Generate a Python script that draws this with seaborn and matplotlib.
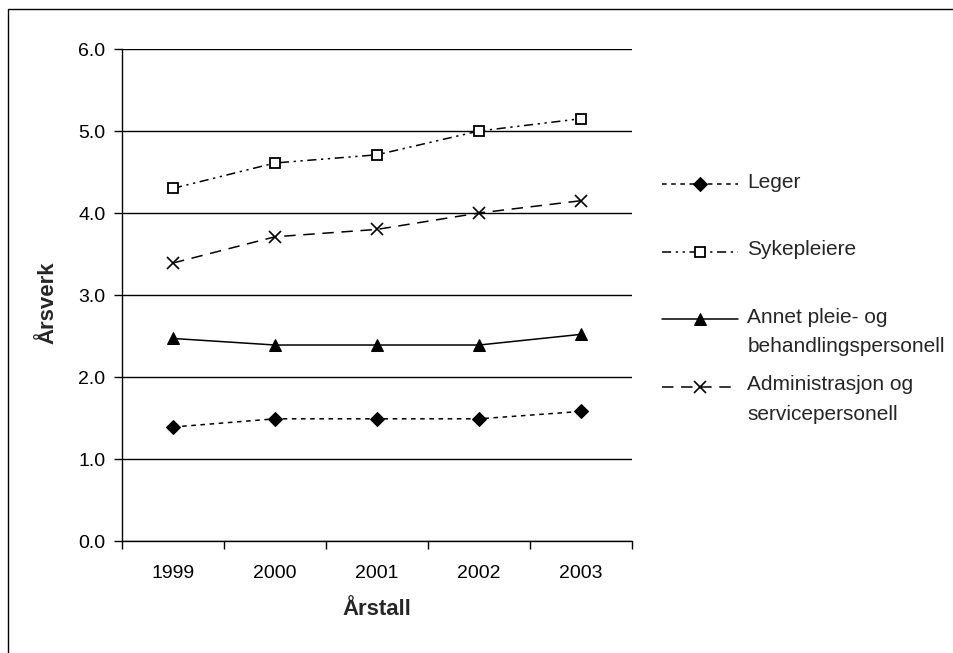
import matplotlib
matplotlib.use("Agg")
import matplotlib.pyplot as plt
import seaborn as sns
import pandas as pd
from matplotlib.patches import Rectangle
from matplotlib.legend_handler import HandlerLine2D

years = ["1999", "2000", "2001", "2002", "2003"]
leger = [1.39, 1.49, 1.49, 1.49, 1.58]
sykepleiere = [4.30, 4.61, 4.71, 5.00, 5.15]
annet = [2.47, 2.39, 2.39, 2.39, 2.52]
admin = [3.39, 3.71, 3.80, 4.00, 4.15]
series_names = ["Leger", "Sykepleiere", "Annet pleie- og\nbehandlingspersonell",
                "Administrasjon og\nservicepersonell"]
y_ticks = [0.0, 1.0, 2.0, 3.0, 4.0, 5.0, 6.0]

sns.set_style("white")
plt.rcParams["font.family"] = ["Liberation Sans", "DejaVu Sans"]

FS = 14
LFS = 15

fig = plt.figure(figsize=(9.54, 6.53), dpi=100)
ax = fig.add_axes([122 / 954, 1 - 541 / 653, 510 / 954, 492 / 653])

styles = [
    dict(marker="D", markersize=7, markerfacecolor="black", markeredgecolor="black",
         linestyle=(0, (3, 3))),
    dict(marker="s", markersize=6.5, markerfacecolor="white", markeredgecolor="black",
         markeredgewidth=1.3, linestyle=(0, (6, 3, 1.5, 3, 1.5, 3))),
    dict(marker="^", markersize=9, markerfacecolor="black", markeredgecolor="black",
         linestyle="-"),
    dict(marker="x", markersize=9, markeredgewidth=1.2, markeredgecolor="black",
         linestyle=(0, (7.5, 5))),
]

xs = list(range(len(years)))
handles = []
for name, vals, st in zip(series_names, [leger, sykepleiere, annet, admin], styles):
    df = pd.DataFrame({"x": xs, "y": vals})
    sns.lineplot(data=df, x="x", y="y", ax=ax, color="black", linewidth=1.1, **st)
    handles.append(ax.lines[-1])

ax.set_xlim(-0.5, len(years) - 0.5)
ax.set_ylim(0, 6)
ax.set_yticks(y_ticks)
ax.set_yticklabels([f"{v:.1f}" for v in y_ticks])
ax.set_xticks([i - 0.5 for i in range(len(years) + 1)])
ax.set_xticklabels([])
ax.set_xticks(xs, minor=True)
ax.set_xticklabels(years, minor=True)
ax.tick_params(axis="x", which="major", direction="out", length=6, width=1, color="black", bottom=True)
ax.tick_params(axis="x", which="minor", length=0, pad=17.5, labelsize=FS, colors="black")
ax.tick_params(axis="y", direction="out", length=6, width=1, color="black", pad=6,
               labelsize=FS, left=True, labelcolor="black")
ax.grid(axis="y", color="black", linewidth=1)
ax.set_axisbelow(True)
for s in ["top", "right"]:
    ax.spines[s].set_visible(False)
for s in ["left", "bottom"]:
    ax.spines[s].set_color("black")
    ax.spines[s].set_linewidth(1)

ax.set_xlabel("Årstall", fontsize=16, fontweight="bold")
ax.xaxis.set_label_coords(0.5, -0.118)
ax.xaxis.label.set_va("top")
ax.set_ylabel("Årsverk", fontsize=16, fontweight="bold")
ax.yaxis.set_label_coords(-0.1255, 0.485)


class FirstLineHandler(HandlerLine2D):
    """Place the legend sample level with the first text line."""
    def __init__(self, shift, **kw):
        super().__init__(**kw)
        self.shift = shift

    def create_artists(self, legend, orig_handle, xdescent, ydescent, width, height,
                       fontsize, trans):
        return super().create_artists(legend, orig_handle, xdescent,
                                      ydescent - 2 * self.shift, width, height,
                                      fontsize, trans)


# every label occupies two text lines so that entries are evenly spaced
leg_labels = [n if "\n" in n else n + "\n " for n in series_names]
leg = fig.legend(handles, leg_labels, loc="upper left",
                 bbox_to_anchor=(662 / 954, 1 - 173 / 653), frameon=False,
                 fontsize=LFS, handlelength=3.65, handletextpad=0.45,
                 labelspacing=0.9, borderaxespad=0, borderpad=0,
                 handler_map={h: FirstLineHandler(9.4) for h in handles})
for t in leg.get_texts():
    t.set_linespacing(1.71)

# outer chart border (top & left visible)
fig.add_artist(Rectangle((8 / 954, -0.1), 1.2, 1 - 9 / 653 + 0.1,
                         transform=fig.transFigure, fill=False,
                         edgecolor="black", linewidth=1))

fig.savefig("out.png", dpi=100)
